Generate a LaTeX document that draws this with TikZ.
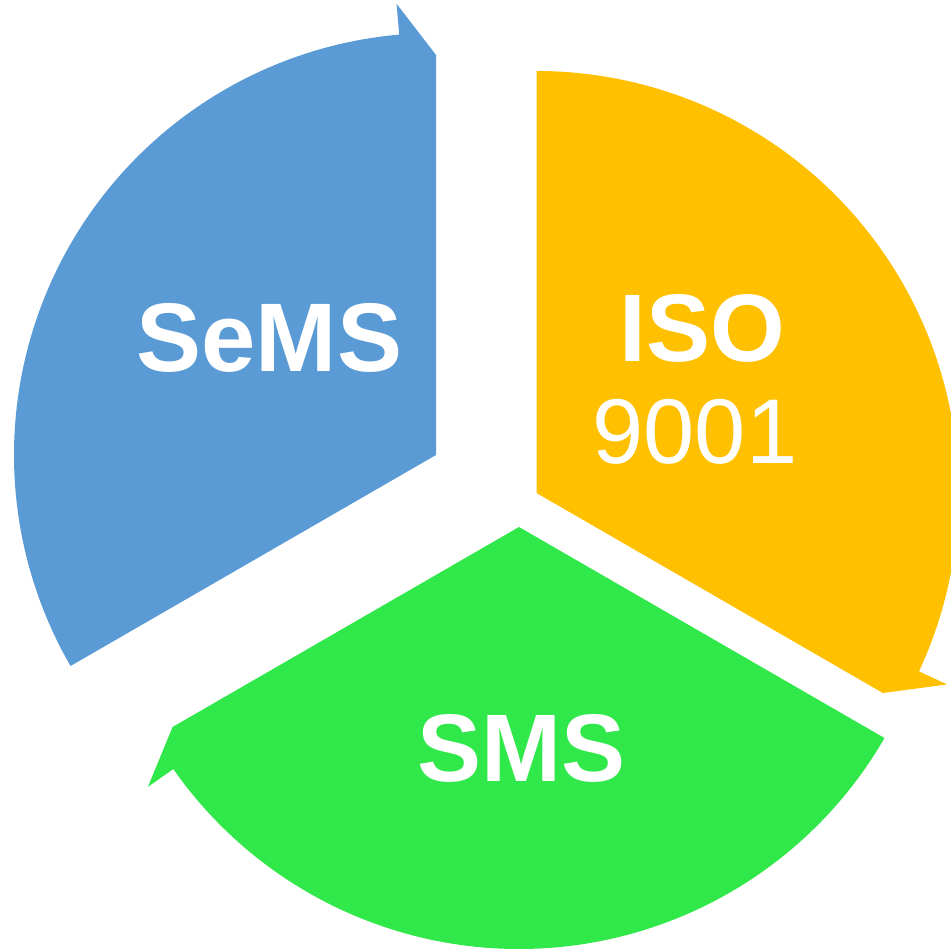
\documentclass[tikz,border=0pt]{standalone}
\usepackage{fontspec}
\setmainfont{Liberation Sans}
\usetikzlibrary{calc}
\definecolor{segblue}{HTML}{5B9BD5}
\definecolor{segyellow}{HTML}{FFC000}
\definecolor{seggreen}{HTML}{31E84A}
\tikzset{
  lbl/.style={text=white, inner sep=0pt, anchor=base, font=\fontsize{96}{110}\selectfont\bfseries},
  lblreg/.style={text=white, inner sep=0pt, anchor=base, font=\fontsize{92}{110}\selectfont},
}
\begin{document}
\begin{tikzpicture}[x=1pt,y=1pt]
\useasboundingbox (0,0) rectangle (951,-949);
% apexes
\coordinate (B) at (436,-455);
\coordinate (Y) at (536.5,-493);
\coordinate (G) at (519,-527);
% blue segment
\fill[segblue] (B) -- ($(B)+(210:422)$) arc[start angle=210, end angle=95, radius=422pt]
  -- ($(B)+(95:453)$) -- ($(B)+(90:400)$) -- cycle;
% yellow segment
\fill[segyellow] (Y) -- ($(Y)+(90:422)$) arc[start angle=90, end angle=-25, radius=422pt]
  -- ($(Y)+(-25:453)$) -- ($(Y)+(-30:400)$) -- cycle;
% green segment
\fill[seggreen] (G) -- ($(G)+(330:422)$) arc[start angle=330, end angle=215, radius=422pt]
  -- ($(G)+(215:453)$) -- ($(G)+(210:400)$) -- cycle;
% labels
\node[lbl, font=\fontsize{97.5}{110}\selectfont\bfseries] (sems) at (269.5,-372) {SeMS};
\node[lbl] (iso) at (702,-362) {ISO};
\node[lblreg] (num) at (695,-464) {9001};
\node[lbl] (sms) at (521.5,-781) {SMS};
\end{tikzpicture}
\end{document}
